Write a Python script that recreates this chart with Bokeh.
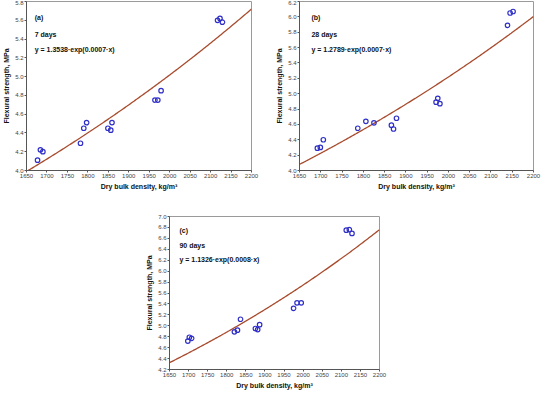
import numpy as np
from bokeh.plotting import figure
from bokeh.models import FixedTicker, Label, ColumnDataSource, Spacer
from bokeh.layouts import row, column
from bokeh.embed import file_html
from bokeh.resources import INLINE

# ---------------- data ----------------
x_ticks = [1650, 1700, 1750, 1800, 1850, 1900, 1950, 2000, 2050, 2100, 2150, 2200]
x_tick_labels = [str(v) for v in x_ticks]

# (a) 7 days
a_density = [1677, 1684, 1690, 1782, 1790, 1797, 1849, 1856, 1859, 1964, 1971, 1979, 2117, 2123, 2129]
a_strength = [4.11, 4.22, 4.20, 4.29, 4.45, 4.51, 4.45, 4.43, 4.51, 4.75, 4.75, 4.85, 5.60, 5.62, 5.58]
a_fit = (1.3538, 0.000655)
a_yticks = [4.0, 4.2, 4.4, 4.6, 4.8, 5.0, 5.2, 5.4, 5.6, 5.8]
a_ytick_labels = ["4.0", "4.2", "4.4", "4.6", "4.8", "5.0", "5.2", "5.4", "5.6", "5.8"]

# (b) 28 days
b_density = [1692, 1699, 1706, 1787, 1806, 1825, 1866, 1871, 1878, 1971, 1975, 1980, 2139, 2145, 2152]
b_strength = [4.29, 4.30, 4.40, 4.55, 4.64, 4.62, 4.59, 4.54, 4.68, 4.89, 4.94, 4.87, 5.89, 6.05, 6.07]
b_fit = (1.2789, 0.000703)
b_yticks = [4.0, 4.2, 4.4, 4.6, 4.8, 5.0, 5.2, 5.4, 5.6, 5.8, 6.0, 6.2]
b_ytick_labels = ["4.0", "4.2", "4.4", "4.6", "4.8", "5.0", "5.2", "5.4", "5.6", "5.8", "6.0", "6.2"]

# (c) 90 days
c_density = [1698, 1702, 1708, 1820, 1828, 1836, 1875, 1881, 1886, 1975, 1984, 1995, 2113, 2121, 2128]
c_strength = [4.72, 4.79, 4.77, 4.89, 4.92, 5.12, 4.95, 4.93, 5.02, 5.32, 5.42, 5.42, 6.75, 6.76, 6.69]
c_fit = (1.1326, 0.000812)
c_yticks = [4.2, 4.4, 4.6, 4.8, 5.0, 5.2, 5.4, 5.6, 5.8, 6.0, 6.2, 6.4, 6.6, 6.8, 7.0]
c_ytick_labels = ["4.2", "4.4", "4.6", "4.8", "5.0", "5.2", "5.4", "5.6", "5.8", "6.0", "6.2", "6.4", "6.6", "6.8", "7.0"]

FONT = "Liberation Sans"
LINE_COLOR = "#a84a2c"
MARK_COLOR = "#3030c8"


def make_panel(dens, strg, fit, yticks, ylabels, yr, tag, days, eq, txt_pos,
               width, height, borders):
    p = figure(width=width, height=height, x_range=(1650, 2200), y_range=yr,
               output_backend="svg", toolbar_location=None,
               min_border_left=borders[0], min_border_right=borders[1],
               min_border_top=borders[2], min_border_bottom=borders[3])
    p.grid.visible = False
    p.outline_line_color = "#9a9a9a"
    p.outline_line_width = 1
    p.background_fill_color = "white"
    p.border_fill_color = "white"

    xs = np.linspace(1650, 2200, 200)
    ys = fit[0] * np.exp(fit[1] * xs)
    p.line(xs, ys, line_color=LINE_COLOR, line_width=1.3)
    src = ColumnDataSource(dict(x=dens, y=strg))
    p.scatter("x", "y", source=src, marker="circle", size=4.5, fill_color=None,
              line_color=MARK_COLOR, line_width=1.2)

    for ax, ticks, labels in ((p.xaxis[0], x_ticks, x_tick_labels), (p.yaxis[0], yticks, ylabels)):
        ax.ticker = FixedTicker(ticks=ticks)
        ax.major_label_overrides = {t: l for t, l in zip(ticks, labels)}
        ax.minor_tick_line_color = None
        ax.major_tick_in = 0
        ax.major_tick_out = 2
        ax.major_tick_line_color = "#555555"
        ax.axis_line_color = "#555555"
        ax.major_label_text_font = FONT
        ax.major_label_text_font_size = "6px"
        ax.major_label_text_color = "#444444"
        ax.major_label_standoff = 1
        ax.axis_label_text_font = FONT
        ax.axis_label_text_font_size = "7px"
        ax.axis_label_text_font_style = "bold"
        ax.axis_label_text_color = "#111111"
        ax.axis_label_standoff = 2
    p.xaxis.axis_label = "Dry bulk density, kg/m³"
    p.yaxis.axis_label = "Flexural strength, MPa"

    for txt, yy in zip((tag, days, eq), txt_pos[1]):
        p.add_layout(Label(x=txt_pos[0], y=yy, text=txt, text_font=FONT,
                           text_font_size="7px", text_font_style="bold",
                           text_color="#111111", text_baseline="middle"))
    return p


p1 = make_panel(a_density, a_strength, a_fit, a_yticks, a_ytick_labels, (4.0, 5.8),
                "(a)", "7 days", "y = 1.3538·exp(0.0007·x)", (1670, (5.63, 5.45, 5.29)),
                267, 192, (20, 16, 1, 20))
p2 = make_panel(b_density, b_strength, b_fit, b_yticks, b_ytick_labels, (4.0, 6.2),
                "(b)", "28 days", "y = 1.2789·exp(0.0007·x)", (1678, (5.99, 5.77, 5.57)),
                275, 192, (32, 9, 1, 20))
p3 = make_panel(c_density, c_strength, c_fit, c_yticks, c_ytick_labels, (4.2, 7.0),
                "(c)", "90 days", "y = 1.1326·exp(0.0008·x)", (1676, (6.75, 6.47, 6.22)),
                246, 199, (26, 10, 24, 16))

layout = column(row(p1, p2), row(Spacer(width=143, height=199), p3))
open("out.html", "w").write(file_html(layout, INLINE))
